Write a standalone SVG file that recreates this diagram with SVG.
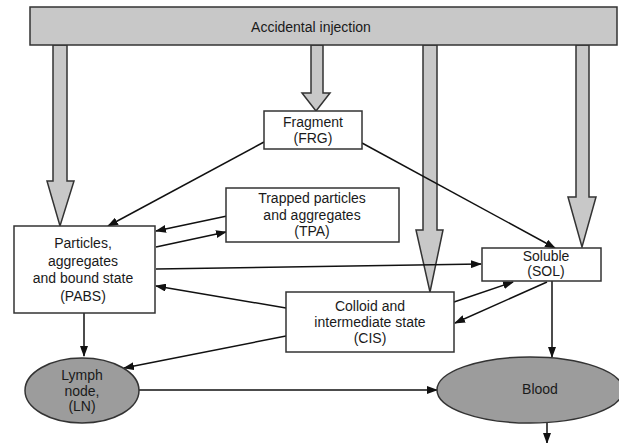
<svg xmlns="http://www.w3.org/2000/svg" width="619" height="443" viewBox="0 0 619 443">
<style>
  .box { fill: #ffffff; stroke: #333333; stroke-width: 1.5; }
  .bar { fill: #c8c8c8; stroke: #333333; stroke-width: 1.5; }
  .ell { fill: #9c9c9c; stroke: #333333; stroke-width: 1.5; }
  .wide { fill: #c8c8c8; stroke: #333333; stroke-width: 1.5; stroke-linejoin: miter; }
  .edge { fill: none; stroke: #111111; stroke-width: 1.5; marker-end: url(#ah); }
  text { font-family: "Liberation Sans", Arial, sans-serif; font-size: 14px; fill: #1a1a1a; text-anchor: middle; }
</style>
<defs>
  <marker id="ah" markerUnits="userSpaceOnUse" markerWidth="11" markerHeight="8" refX="10" refY="4" orient="auto">
    <path d="M0,0 L11,4 L0,8 z" fill="#111111"/>
  </marker>
</defs>
<rect width="619" height="443" fill="#ffffff"/>
<g id="connectors">
  <polygon class="wide" points="53,45 67,45 67,181 74,181 60,226 47,181 53,181"/>
  <polygon class="wide" points="311,45 323,45 323,93 330,93 316,111 302,93 311,93"/>
  <polygon class="wide" points="423,45 437,45 437,230 443,230 430,292 416,230 423,230"/>
  <polygon class="wide" points="576,45 589,45 589,197 596,197 582,247 568,197 576,197"/>
  <path class="edge" d="M264,142 L108,226"/>
  <path class="edge" d="M362,143 L555,248"/>
  <path class="edge" d="M227,216 L156,231"/>
  <path class="edge" d="M156,247 L226,232"/>
  <path class="edge" d="M156,269 L481,264"/>
  <path class="edge" d="M286,308 L156,286"/>
  <path class="edge" d="M454,302 L513,282"/>
  <path class="edge" d="M547,282 L455,323"/>
  <path class="edge" d="M286,336 L124,368"/>
  <path class="edge" d="M84,313 L84,356"/>
  <path class="edge" d="M552,281 L552,357"/>
  <path class="edge" d="M139,390 L437,390"/>
  <path class="edge" d="M547,423 L547,443"/>
</g>
<g id="injection">
  <rect class="bar" x="30" y="7" width="587" height="38"/>
  <text x="311" y="32">Accidental injection</text>
</g>
<g id="frg">
  <rect class="box" x="264" y="111" width="98" height="38"/>
  <text x="313" y="127">Fragment</text>
  <text x="313" y="143">(FRG)</text>
</g>
<g id="tpa">
  <rect class="box" x="226" y="188" width="173" height="54"/>
  <text x="312" y="203">Trapped particles</text>
  <text x="312" y="219.5">and aggregates</text>
  <text x="312" y="236">(TPA)</text>
</g>
<g id="pabs">
  <rect class="box" x="14" y="226" width="141" height="87"/>
  <text x="83" y="248">Particles,</text>
  <text x="83" y="265.5">aggregates</text>
  <text x="83" y="283">and bound state</text>
  <text x="83" y="300.5">(PABS)</text>
</g>
<g id="sol">
  <rect class="box" x="482" y="248" width="119" height="33"/>
  <text x="546" y="261">Soluble</text>
  <text x="546" y="276">(SOL)</text>
</g>
<g id="cis">
  <rect class="box" x="286" y="292" width="168" height="60"/>
  <text x="370" y="311">Colloid and</text>
  <text x="370" y="327">intermediate state</text>
  <text x="370" y="343">(CIS)</text>
</g>
<g id="ln">
  <ellipse class="ell" cx="82" cy="390.5" rx="57" ry="32.5"/>
  <text x="82" y="380">Lymph</text>
  <text x="82" y="396">node,</text>
  <text x="82" y="411">(LN)</text>
</g>
<g id="blood">
  <ellipse class="ell" cx="530" cy="390" rx="93" ry="33"/>
  <text x="540" y="394">Blood</text>
</g>
</svg>
